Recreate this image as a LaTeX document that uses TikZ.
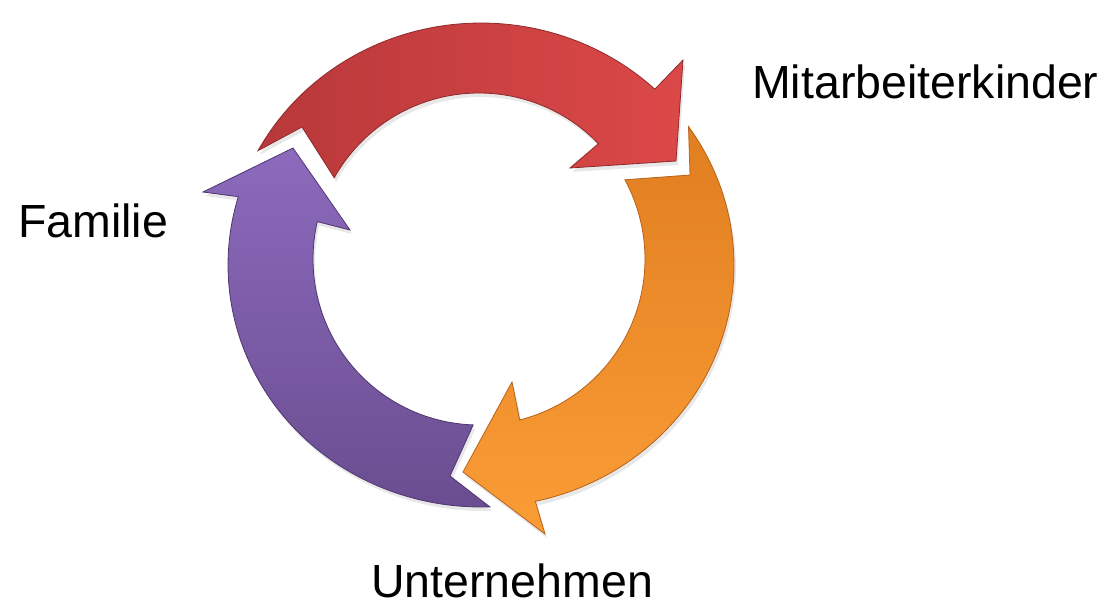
\documentclass[tikz,border=0pt]{standalone}
\usepackage{fontspec}
\setmainfont{Liberation Sans}
\usetikzlibrary{shadows}
\definecolor{redA}{HTML}{B8383A}
\definecolor{redB}{HTML}{DC4848}
\definecolor{redE}{HTML}{8E2A2C}
\definecolor{orA}{HTML}{E17E20}
\definecolor{orB}{HTML}{FA9D36}
\definecolor{orE}{HTML}{B8621A}
\definecolor{puA}{HTML}{8C6ABD}
\definecolor{puB}{HTML}{6A4D90}
\definecolor{puE}{HTML}{4E3770}
\tikzset{
  arrowshape/.style={drop shadow={opacity=0.18, shadow xshift=2pt, shadow yshift=-4pt}, line width=0.8pt, line join=miter},
  label/.style={inner sep=0pt, anchor=base west, font=\fontsize{46.5}{56}\selectfont}
}
\begin{document}
\begin{tikzpicture}[x=1pt,y=-1pt]
\useasboundingbox (0,0) rectangle (1113,608);
% ---------- red arrow ----------
\coordinate (ro1) at ({481+253*cos(151.8)},{265-242*sin(151.8)});
\coordinate (rob) at (683,60);
\coordinate (rtip) at (676,161);
\coordinate (rib) at (570,168);
\coordinate (rn) at (302,127);
\draw[arrowshape, draw=redE, left color=redA, right color=redB]
  (ro1) -- plot[domain=151.8:46.6, samples=70] ({481+253*cos(\x)},{265-242*sin(\x)})
  -- (rob) -- (rtip) -- (rib)
  -- plot[domain=44:150.7, samples=70] ({479+166*cos(\x)},{259-166*sin(\x)})
  -- (rn) -- cycle;
% ---------- orange arrow ----------
\coordinate (oo1) at ({481+253*cos(34.9)},{265-242*sin(34.9)});
\coordinate (oob) at (545,534);
\coordinate (otip) at (463,472);
\coordinate (oib) at (512,382);
\coordinate (on) at (690,175);
\draw[arrowshape, draw=orE, top color=orA, bottom color=orB]
  (oo1) -- plot[domain=34.9:-77.6, samples=70] ({481+253*cos(\x)},{265-242*sin(\x)})
  -- (oob) -- (otip) -- (oib)
  -- plot[domain=-75.8:28.5, samples=70] ({479+166*cos(\x)},{259-166*sin(\x)})
  -- (on) -- cycle;
% ---------- purple arrow ----------
\coordinate (po1) at ({481+253*cos(272)},{265-242*sin(272)});
\coordinate (pob) at (203,192);
\coordinate (ptip) at (293,148);
\coordinate (pib) at (350,230);
\coordinate (pn) at (450,476);
\draw[arrowshape, draw=puE, top color=puA, bottom color=puB]
  (po1) -- plot[domain=272:163.6, samples=70] ({481+253*cos(\x)},{265-242*sin(\x)})
  -- (pob) -- (ptip) -- (pib)
  -- plot[domain=167:268, samples=70] ({479+166*cos(\x)},{259-166*sin(\x)})
  -- (pn) -- cycle;
% ---------- labels ----------
\node[label] (mit) at (752,98) {Mitarbeiterkinder};
\node[label] (fam) at (18,237) {Familie};
\node[label] (unt) at (371,597) {Unternehmen};
\end{tikzpicture}
\end{document}
